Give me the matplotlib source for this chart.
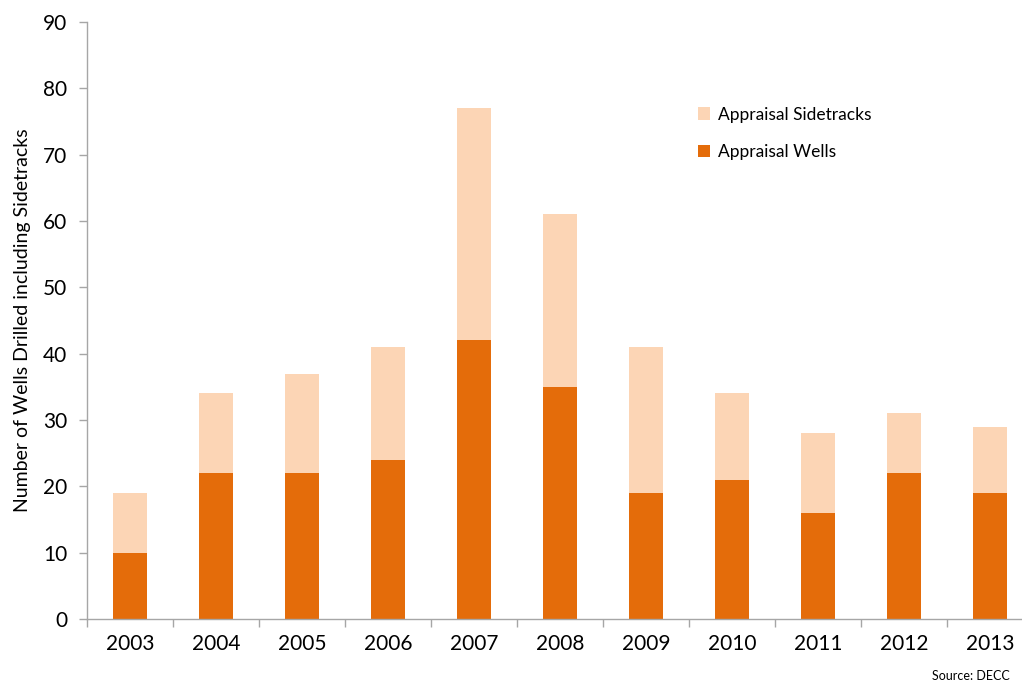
import numpy as np
import matplotlib.pyplot as plt
import matplotlib.ticker as ticker

# Appraisal drilling, wells and sidetracks per year
years = ["2003", "2004", "2005", "2006", "2007", "2008",
         "2009", "2010", "2011", "2012", "2013"]
wells = [10, 22, 22, 24, 42, 35, 19, 21, 16, 22, 19]
sidetracks = [9, 12, 15, 17, 35, 26, 22, 13, 12, 9, 10]

dark_orange = "#E46C0A"
light_orange = "#FCD5B5"
axis_grey = "#A6A6A6"

plt.rcParams['font.family'] = ['Lato', 'DejaVu Sans']

fig = plt.figure(figsize=(10.22, 6.89), dpi=100)
ax = fig.add_axes([0.0851, 0.1016, 0.9256, 0.8665])

x = np.arange(len(years))
ax.bar(x, wells, width=0.4, color=dark_orange, label="Appraisal Wells", zorder=2)
ax.bar(x, sidetracks, width=0.4, bottom=wells, color=light_orange,
       label="Appraisal Sidetracks", zorder=2)

ax.set_xlim(-0.5, len(years) - 0.5)
ax.set_ylim(0, 90)
ax.yaxis.set_major_locator(ticker.MultipleLocator(10))

# year labels centred on bars, tick marks between categories
ax.set_xticks(x)
ax.set_xticklabels(years, fontsize=15)
ax.set_xticks(np.arange(-0.5, len(years), 1), minor=True)
ax.tick_params(axis="x", which="major", length=0, pad=11)
ax.tick_params(axis="x", which="minor", length=6, color=axis_grey, width=1)
ax.tick_params(axis="y", length=6, color=axis_grey, width=1, labelsize=15, pad=8)

for side in ["top", "right"]:
    ax.spines[side].set_visible(False)
for side in ["left", "bottom"]:
    ax.spines[side].set_color(axis_grey)
    ax.spines[side].set_linewidth(1)

ax.set_ylabel("Number of Wells Drilled including Sidetracks", fontsize=14, labelpad=9)

handles, labels = ax.get_legend_handles_labels()
ax.legend(handles[::-1], labels[::-1], loc="upper left",
          bbox_to_anchor=(0.668, 0.868), bbox_transform=fig.transFigure,
          frameon=False, fontsize=12.5, handlelength=0.7, handleheight=0.7,
          handletextpad=0.45, labelspacing=1.25)

fig.text(0.988, 0.01, "Source: DECC", ha="right", va="bottom", fontsize=9)

fig.savefig("out.png", dpi=100)
